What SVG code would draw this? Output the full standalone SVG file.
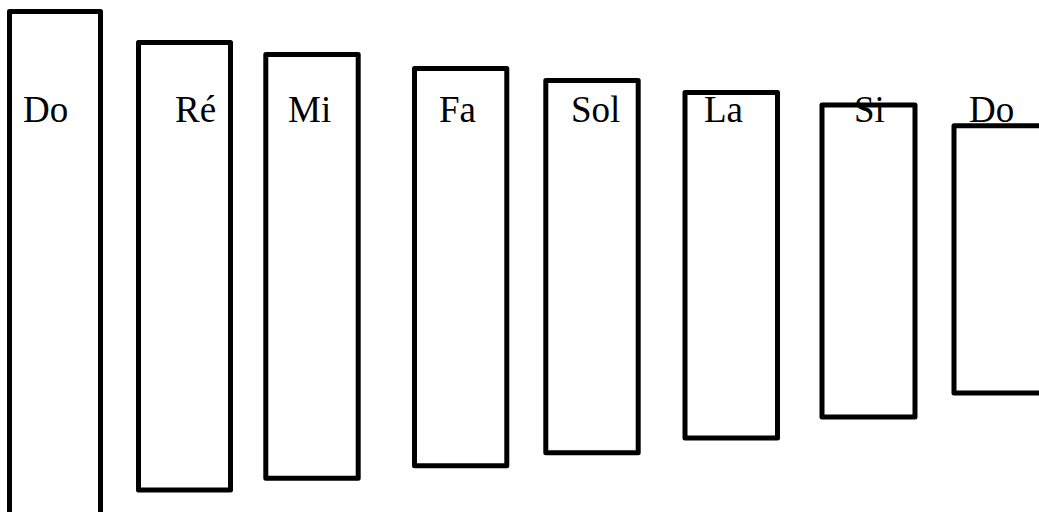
<svg xmlns="http://www.w3.org/2000/svg" width="1039" height="512" viewBox="0 0 1039 512">
<style>
.k{fill:#fff;stroke:#000;stroke-width:5;stroke-linejoin:round}
.t{font-family:"Liberation Serif","DejaVu Serif",serif;font-size:37px;fill:#000}
</style>
<rect width="1039" height="512" fill="#fff"/>
<g id="connectors"/>
<g id="n1"><rect class="k" x="9.5" y="11.5" width="91" height="520"/><text class="t" x="23" y="122">Do</text></g>
<g id="n2"><rect class="k" x="138.5" y="42.5" width="92" height="447.5"/><text class="t" x="175" y="122">Ré</text></g>
<g id="n3"><rect class="k" x="265.8" y="54.5" width="92.4" height="423.7"/><text class="t" x="288" y="122">Mi</text></g>
<g id="n4"><rect class="k" x="414.5" y="68.5" width="92.3" height="397.3"/><text class="t" x="439" y="122">Fa</text></g>
<g id="n5"><rect class="k" x="545.8" y="80.5" width="92.4" height="372.3"/><text class="t" x="571" y="122">Sol</text></g>
<g id="n6"><rect class="k" x="685" y="92.5" width="92.5" height="345.5"/><text class="t" x="704" y="122">La</text></g>
<g id="n7"><rect class="k" x="822" y="105" width="93" height="312"/><text class="t" x="854" y="122">Si</text></g>
<g id="n8"><rect class="k" x="954" y="125.8" width="100" height="267.2"/><text class="t" x="969" y="122">Do</text></g>
</svg>
